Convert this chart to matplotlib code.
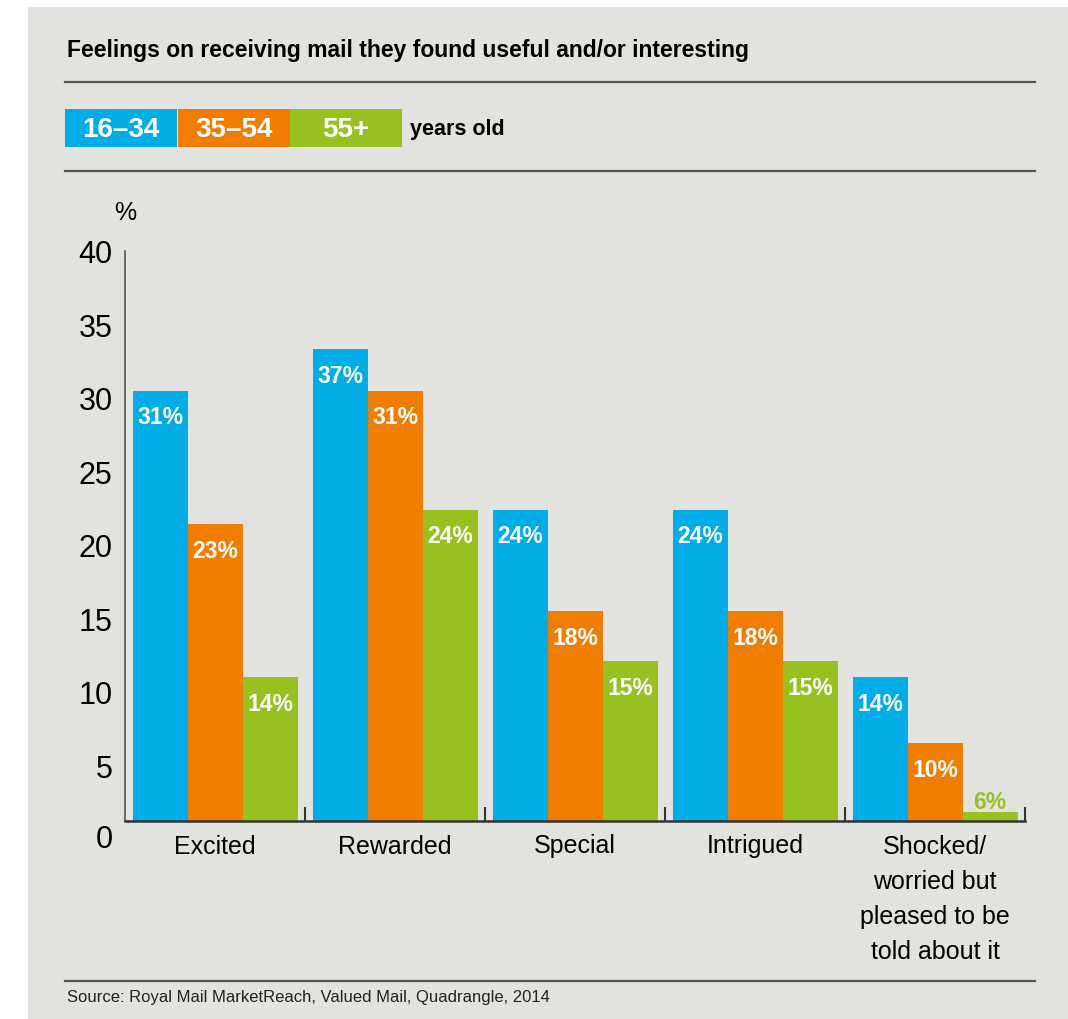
import numpy as np
import matplotlib
matplotlib.use("Agg")
import matplotlib.pyplot as plt
from matplotlib.patches import Rectangle
from matplotlib.lines import Line2D

plt.rcParams['font.family'] = ['Liberation Sans Narrow', 'DejaVu Sans Condensed', 'Liberation Sans', 'DejaVu Sans']

# data (bar heights as drawn, labels as printed)
categories = ["Excited", "Rewarded", "Special", "Intrigued",
              "Shocked/\nworried but\npleased to be\ntold about it"]
groups = ["16\u201334", "35\u201354", "55+"]
heights_1634 = [30.5, 33.3, 22.4, 22.4, 11.0]
heights_3554 = [21.4, 30.5, 15.5, 15.5, 6.5]
heights_55 = [11.0, 22.4, 12.1, 12.1, 1.8]
labels_1634 = ["31%", "37%", "24%", "24%", "14%"]
labels_3554 = ["23%", "31%", "18%", "18%", "10%"]
labels_55 = ["14%", "24%", "15%", "15%", "6%"]
yticks = [5, 10, 15, 20, 25, 30, 35, 40]

colors = ["#00ADE6", "#F07D00", "#96C11F"]
bg = "#E2E2DE"

W, H = 1068, 1020
fig = plt.figure(figsize=(W / 100, H / 100), dpi=100, facecolor="white")
fig.add_artist(Rectangle((28 / W, 0), 1, (H - 8) / H, transform=fig.transFigure,
                         facecolor=bg, edgecolor="none", zorder=-10))

ax = fig.add_axes([125 / W, 1 - 822 / H, 900 / W, 570 / H])
ax.set_facecolor("none")

x = np.arange(len(categories)) + 0.5
bw = 55 / 180
series = [(heights_1634, labels_1634), (heights_3554, labels_3554), (heights_55, labels_55)]
for i, (vals, labs) in enumerate(series):
    xs = x + (i - 1) * bw
    ax.bar(xs, vals, width=bw, color=colors[i], zorder=2)
    for xi, v, lab in zip(xs, vals, labs):
        if v < 5:
            ax.annotate(lab, (xi, v), xytext=(0, 8), textcoords="offset points",
                        ha="center", va="center", color=colors[i],
                        fontsize=16.5, fontweight="bold")
        else:
            ax.annotate(lab, (xi, v), xytext=(0, -19), textcoords="offset points",
                        ha="center", va="center", color="white",
                        fontsize=16.5, fontweight="bold")

ax.set_xlim(0, len(categories))
ax.set_ylim(1.2, 40)
ax.set_xticks(x)
ax.set_xticklabels(categories, fontsize=18, linespacing=1.58)
ax.set_xticks(np.arange(1, len(categories) + 1), minor=True)
ax.tick_params(axis="x", which="major", length=0, pad=9)
ax.tick_params(axis="x", which="minor", direction="in", length=10, width=1.5, color="#333333")
ax.set_yticks(yticks)
ax.tick_params(axis="y", length=0, pad=9, labelsize=22)
ax.annotate("0", (0, 0), xycoords=("axes fraction", "data"), xytext=(-9, 0),
            textcoords="offset points", ha="right", va="center", fontsize=22,
            annotation_clip=False)
ax.annotate("%", (0, 40), xycoords=("axes fraction", "data"), xytext=(0, 28),
            textcoords="offset points", ha="center", va="center", fontsize=18,
            annotation_clip=False)

for s in ["top", "right"]:
    ax.spines[s].set_visible(False)
ax.spines["left"].set_color("#555555")
ax.spines["left"].set_linewidth(1.2)
ax.spines["bottom"].set_color("#333333")
ax.spines["bottom"].set_linewidth(1.8)
ax.spines["bottom"].set_zorder(3)

# title, rules, legend, source
fig.text(67 / W, 1 - 50 / H, "Feelings on receiving mail they found useful and/or interesting",
         fontsize=16.5, fontweight="bold", va="center", ha="left")
for yy in [83, 172, 982]:
    fig.add_artist(Line2D([65 / W, 1035 / W], [1 - yy / H, 1 - yy / H],
                          color="#555555", lw=1.6, transform=fig.transFigure))

box_x = [65, 178, 290]
for i, g in enumerate(groups):
    fig.add_artist(Rectangle((box_x[i] / W, 1 - 148 / H), 112 / W, 38 / H,
                             transform=fig.transFigure, facecolor=colors[i], edgecolor="none"))
    fig.text((box_x[i] + 56) / W, 1 - 130 / H, g, color="white", fontsize=20,
             fontweight="bold", ha="center", va="center")
fig.text(410 / W, 1 - 130 / H, "years old", fontsize=15.5, fontweight="bold",
         ha="left", va="center")

fig.text(67 / W, 1 - 998 / H, "Source: Royal Mail MarketReach, Valued Mail, Quadrangle, 2014",
         fontsize=12, ha="left", va="center", color="#222222")

fig.savefig("out.png", dpi=100, facecolor=fig.get_facecolor())
